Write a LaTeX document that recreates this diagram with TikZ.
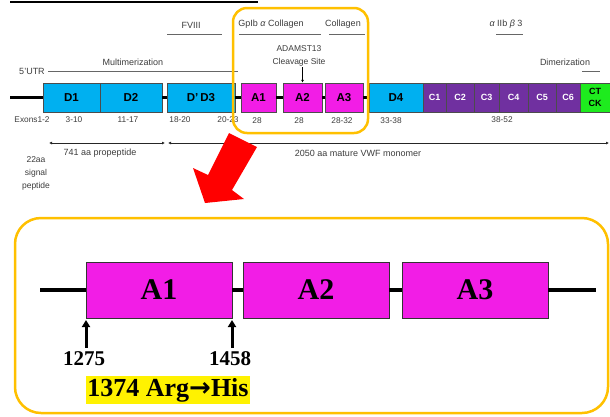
\documentclass[tikz,border=0pt]{standalone}
\usepackage{fontspec}
\setmainfont{Liberation Sans}
\newfontfamily\tnr{Liberation Serif}
\newfontfamily\dvs{DejaVu Sans}
\usetikzlibrary{arrows.meta}
\definecolor{vblue}{RGB}{0,176,240}
\definecolor{vmag}{RGB}{242,29,230}
\definecolor{vpur}{RGB}{112,48,160}
\definecolor{vgreen}{RGB}{30,235,30}
\definecolor{vyel}{RGB}{255,192,0}
\definecolor{lblgray}{RGB}{60,60,60}
\tikzset{
  dom/.style={draw=black!70, line width=0.5pt, minimum height=29pt, inner sep=0pt, font=\bfseries\fontsize{11.5}{12}\selectfont},
  cdom/.style={dom, fill=vpur, text=white, font=\bfseries\fontsize{9}{10}\selectfont},
  lbl/.style={inner sep=0pt, font=\fontsize{9}{11}\selectfont, text=lblgray},
  num/.style={inner sep=0pt, font=\fontsize{8.3}{9}\selectfont, text=lblgray},
  bar/.style={draw=black!60, line width=0.8pt},
  spine/.style={line width=3pt},
  ybox/.style={draw=vyel, line width=2.5pt, rounded corners=14pt},
  bigdom/.style={draw=black!80, line width=0.8pt, fill=vmag, minimum height=56pt, inner sep=0pt, font=\tnr\bfseries\fontsize{30}{32}\selectfont},
  bignum/.style={inner sep=0pt, font=\tnr\bfseries\fontsize{21}{24}\selectfont},
  uparr/.style={line width=3pt, -{Triangle[length=7pt,width=8pt]}},
  span/.style={line width=0.7pt, draw=black!85, {Latex[length=3pt,width=3pt]}-{Latex[length=3pt,width=3pt]}}
}
\begin{document}
\begin{tikzpicture}[x=1pt,y=-1pt]
\useasboundingbox (0,0) rectangle (610,416);
% top rule
\coordinate (tl) at (10,2); \coordinate (tr) at (258,2);
\draw[line width=2.5pt] (tl) -- (tr);

% domains
\node[dom, fill=vblue, minimum width=57pt] (d1) at (71.5,97.5) {D1};
\node[dom, fill=vblue, minimum width=62pt] (d2) at (131,97.5) {D2};
\node[dom, fill=vblue, minimum width=68pt] (dd3) at (201,97.5) {D'\,D3};
\node[dom, fill=vmag, minimum width=35pt] (a1) at (258.5,97.5) {A1};
\node[dom, fill=vmag, minimum width=39pt] (a2) at (302.5,97.5) {A2};
\node[dom, fill=vmag, minimum width=38pt] (a3) at (344,97.5) {A3};
\node[dom, fill=vblue, minimum width=54pt] (d4) at (396,97.5) {D4};
\node[cdom, minimum width=23pt] (c1) at (434.5,97.5) {C1};
\node[cdom, minimum width=28pt] (c2) at (460,97.5) {C2};
\node[cdom, minimum width=25pt] (c3) at (486.5,97.5) {C3};
\node[cdom, minimum width=29pt] (c4) at (513.5,97.5) {C4};
\node[cdom, minimum width=28pt] (c5) at (542,97.5) {C5};
\node[cdom, minimum width=24pt] (c6) at (568,97.5) {C6};
\node[dom, fill=vgreen, minimum width=30pt, align=center, font=\bfseries\fontsize{9}{12}\selectfont] (ct) at (595,97.5) {CT\\CK};

% spine connectors
\coordinate (s0) at (10,97.5);
\draw[spine] (s0) -- (d1.west);
\draw[spine] (d2.east) -- (dd3.west);
\draw[spine] (dd3.east) -- (a1.west);
\draw[spine] (a1.east) -- (a2.west);
\draw[spine] (a2.east) -- (a3.west);
\draw[spine] (a3.east) -- (d4.west);

% labels above
\node[lbl] (fviii) at (191,25) {FVIII};
\draw[bar] (167,34) -- (222,34);
\node[lbl] (gp) at (271,24) {GpIb {\itshape α} Collagen};
\draw[bar] (239,34) -- (321,34);
\node[lbl] (col) at (343,24) {Collagen};
\draw[bar] (329,34) -- (365,34);
\node[lbl, align=center, font=\fontsize{8.5}{12.5}\selectfont] (adam) at (299,56) {ADAMST13\\Cleavage Site};
\draw[line width=0.7pt, -{Latex[length=3pt,width=3pt]}] (adam.south -| a2.north) ++(0,1) -- (a2.north);
\node[lbl] (mult) at (133,62) {Multimerization};
\draw[bar] (48,71) -- (238,71);
\node[lbl] (utr) at (32,71) {5'UTR};
\node[lbl] (aiib) at (506,24) {{\itshape α} IIb {\itshape β} 3};
\draw[bar] (496,34) -- (523,34);
\node[lbl] (dim) at (565,62) {Dimerization};
\draw[bar] (582,71) -- (600,71);

% exon numbers
\node[num] (e0) at (32,120) {Exons1-2};
\node[num] (e1) at (74,120) {3-10};
\node[num] (e2) at (128,120) {11-17};
\node[num] (e3) at (180,120) {18-20};
\node[num] (e4) at (228,120) {20-23};
\node[num] (e5) at (257,121) {28};
\node[num] (e6) at (299,121) {28};
\node[num] (e7) at (342,121) {28-32};
\node[num] (e8) at (391,121) {33-38};
\node[num] (e9) at (502,120) {38-52};

% yellow highlight frame
\draw[ybox] (233,8) rectangle (368,133);

% spans
\coordinate (p0) at (49,143); \coordinate (p1) at (165,143);
\coordinate (m0) at (168,143); \coordinate (m1) at (609,143);
\draw[span] (p0) -- (p1);
\draw[span] (m0) -- (m1);
\node[lbl] (prop) at (100,153) {741 aa propeptide};
\node[lbl] (mono) at (358,153) {2050 aa mature VWF monomer};
\node[lbl, align=center, font=\fontsize{8.5}{13}\selectfont] (sig) at (36,173) {22aa\\signal\\peptide};

% red arrow
\fill[red] (229,133) -- (257,147) -- (232,190) -- (244,199) -- (205,203) -- (193,168) -- (208,175) -- cycle;

% bottom frame
\draw[draw=vyel, line width=2.5pt, rounded corners=26pt] (15,218) rectangle (608,413);

% bottom domains
\node[bigdom, minimum width=146pt] (ba1) at (159,290) {A1};
\node[bigdom, minimum width=146pt] (ba2) at (316,290) {A2};
\node[bigdom, minimum width=146pt] (ba3) at (475,290) {A3};
\coordinate (bl) at (40,290); \coordinate (br) at (596,290);
\draw[line width=4pt] (bl) -- (ba1.west);
\draw[line width=4pt] (ba1.east) -- (ba2.west);
\draw[line width=4pt] (ba2.east) -- (ba3.west);
\draw[line width=4pt] (ba3.east) -- (br);

% position arrows
\node[bignum] (n1) at (84,359) {1275};
\node[bignum] (n2) at (230,359) {1458};
\coordinate (q1) at (86,320); \coordinate (q2) at (232,320);
\draw[uparr] (n1.north -| q1) ++(0,-4) -- (q1);
\draw[uparr] (n2.north -| q2) ++(0,-4) -- (q2);

% mutation
\node[fill=yellow, inner xsep=1pt, inner ysep=2pt, font=\tnr\bfseries\fontsize{26}{28}\selectfont] (mut) at (168,390) {1374 Arg{\dvs\bfseries →}His};
\end{tikzpicture}
\end{document}
